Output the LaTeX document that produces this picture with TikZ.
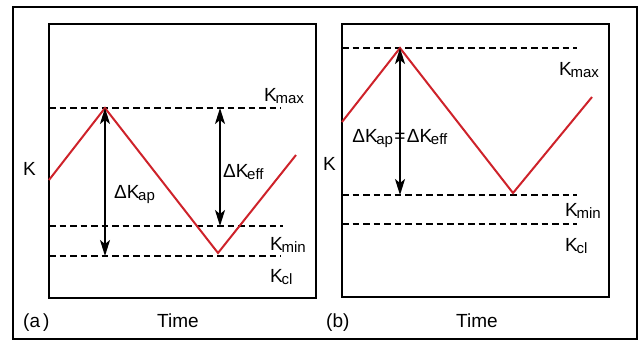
\documentclass[tikz,border=0pt]{standalone}
\usepackage{fontspec}
\setmainfont{Liberation Sans}
\usetikzlibrary{arrows.meta, positioning}

\newcommand{\Klab}[1]{K\kern-0.07em\raisebox{-0.11em}{\fontsize{15}{15}\selectfont#1}}
\tikzset{
  frame/.style={line width=2.3pt},
  level/.style={dashed, dash pattern=on 6.5pt off 4pt, line width=1.7pt},
  load/.style={line width=2pt, color=loadred},
  krange/.style={<->, line width=1.8pt},
  lab/.style={inner sep=0pt, anchor=base west, font=\fontsize{19}{19}\selectfont}
}
\definecolor{loadred}{RGB}{206,34,42}

\begin{document}
\begin{tikzpicture}[x=1pt, y=-1pt, >={Stealth[length=16pt, width=10pt, inset=4pt]}]
  \useasboundingbox (0,0) rectangle (644,341);
  \draw[frame] (13,7) rectangle (637,339);

  % panel (a)
  \draw[frame] (49,24) rectangle (316,298);
  \coordinate (a0) at (49,180);
  \coordinate (apk) at (105,108);
  \coordinate (atr) at (218,253);
  \coordinate (a1) at (296,155);
  \coordinate (amaxl) at (49,108);  \coordinate (amaxr) at (281,108);
  \coordinate (aminl) at (49,226);  \coordinate (aminr) at (283,226);
  \coordinate (acll) at (49,256);   \coordinate (aclr) at (281,256);
  \coordinate (acl) at (105,256);
  \coordinate (aefft) at (220,108); \coordinate (aeffb) at (220,226);

  \draw[level] (amaxl) -- (amaxr);
  \draw[level] (aminl) -- (aminr);
  \draw[level] (acll) -- (aclr);
  \draw[load] (a0) -- (apk) -- (atr) -- (a1);
  \draw[krange] (apk) -- (acl);
  \draw[krange] (aefft) -- (aeffb);

  \node[lab] (aK) at (23,175) {K};
  \node[lab] (aap) at (114,198) {Δ\Klab{ap}};
  \node[lab] (aeff) at (223,177) {Δ\Klab{eff}};
  \node[lab] (amax) at (264,101) {\Klab{max}};
  \node[lab] (amin) at (270,250) {\Klab{min}};
  \node[lab] (acllab) at (270,282) {\Klab{cl}};
  \node[lab] (atag) at (23,327) {(a\,)};
  \node[lab] (atime) at (157,327) {Time};

  % panel (b)
  \draw[frame] (342,24) rectangle (609,297);
  \coordinate (b0) at (342,122);
  \coordinate (bpk) at (400,48);
  \coordinate (btr) at (513,193);
  \coordinate (b1) at (592,97);
  \coordinate (bmaxl) at (342,48);  \coordinate (bmaxr) at (577,48);
  \coordinate (bminl) at (342,195); \coordinate (bminr) at (577,195);
  \coordinate (bcll) at (342,224);  \coordinate (bclr) at (577,224);
  \coordinate (bmin) at (400,195);

  \draw[level] (bmaxl) -- (bmaxr);
  \draw[level] (bminl) -- (bminr);
  \draw[level] (bcll) -- (bclr);
  \draw[load] (b0) -- (bpk) -- (btr) -- (b1);
  \draw[krange] (bpk) -- (bmin);

  \node[lab] (bK) at (323,170) {K};
  \node[lab, anchor=base] (beq) at (400,142) {=};
  \node[lab, base left=1pt of beq] (bap) {Δ\Klab{ap}};
  \node[lab, base right=1pt of beq] (beff) {Δ\Klab{eff}};
  \node[lab] (bmax) at (559,75) {\Klab{max}};
  \node[lab] (bminlab) at (565,216) {\Klab{min}};
  \node[lab] (bcllab) at (565,251) {\Klab{cl}};
  \node[lab] (btag) at (326,327) {(b)};
  \node[lab] (btime) at (456,327) {Time};
\end{tikzpicture}
\end{document}
